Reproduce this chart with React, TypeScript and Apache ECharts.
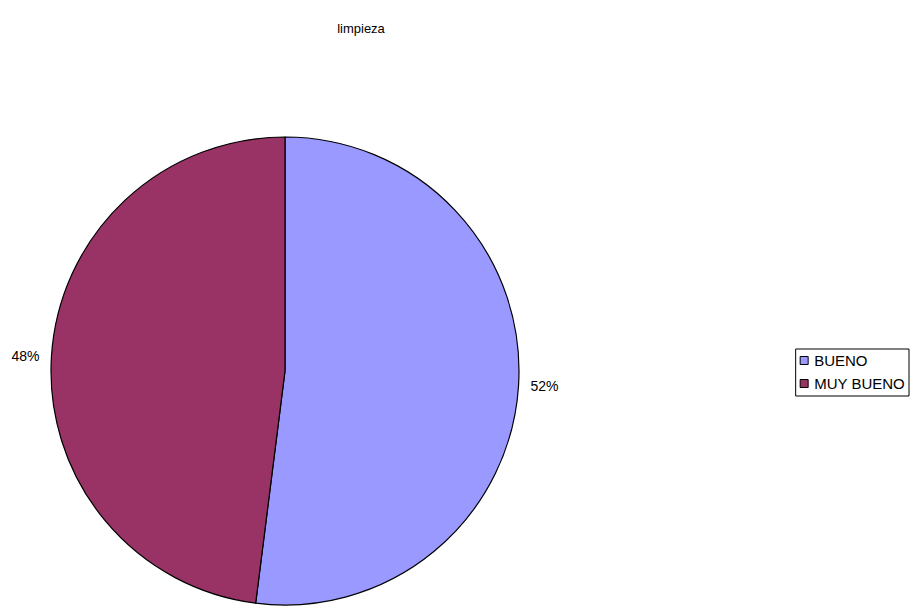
import React, { useEffect, useRef } from "react";
import * as echarts from "echarts";

const categories = ["BUENO", "MUY BUENO"];
const values = [52, 48];
const colors = ["#9999FF", "#993366"];
const titleText = "limpieza";

export default function App() {
  const ref = useRef<HTMLDivElement>(null);
  useEffect(() => {
    const chart = echarts.init(ref.current!, null, { renderer: "svg" });
    chart.setOption({
      animation: false,
      backgroundColor: "#ffffff",
      title: {
        text: titleText,
        left: 356,
        top: 17,
        textAlign: "center",
        textStyle: { fontFamily: "Arial, Liberation Sans", fontSize: 13, fontWeight: "normal", color: "#000" },
      },
      legend: {
        orient: "vertical",
        right: 6,
        top: 349,
        data: categories,
        icon: "rect",
        itemWidth: 8,
        itemHeight: 8,
        itemGap: 8,
        padding: [4, 4, 5, 4],
        borderColor: "#000",
        borderWidth: 1,
        selectedMode: false,
        textStyle: { fontFamily: "Arial, Liberation Sans", fontSize: 15, color: "#000", padding: [0, 0, 0, 1] },
        itemStyle: { borderColor: "#000", borderWidth: 1 },
      },
      series: [
        {
          type: "pie",
          center: [285, 371],
          radius: [0, 234],
          startAngle: 90,
          clockwise: true,
          data: categories.map((c, i) => ({ name: c, value: values[i], itemStyle: { color: colors[i] } })),
          itemStyle: { borderColor: "#000", borderWidth: 1.2 },
          label: {
            show: true,
            position: "outside",
            formatter: (p: any) => Math.round(p.percent) + "%",
            fontFamily: "Arial, Liberation Sans",
            fontSize: 14,
            color: "#000",
          },
          labelLine: { show: false, length: 7, length2: 0 },
          emphasis: { disabled: true },
        },
      ],
    });
    return () => chart.dispose();
  }, []);
  return <div ref={ref} style={{ position: "fixed", left: 0, top: 0, width: 915, height: 608 }} />;
}
